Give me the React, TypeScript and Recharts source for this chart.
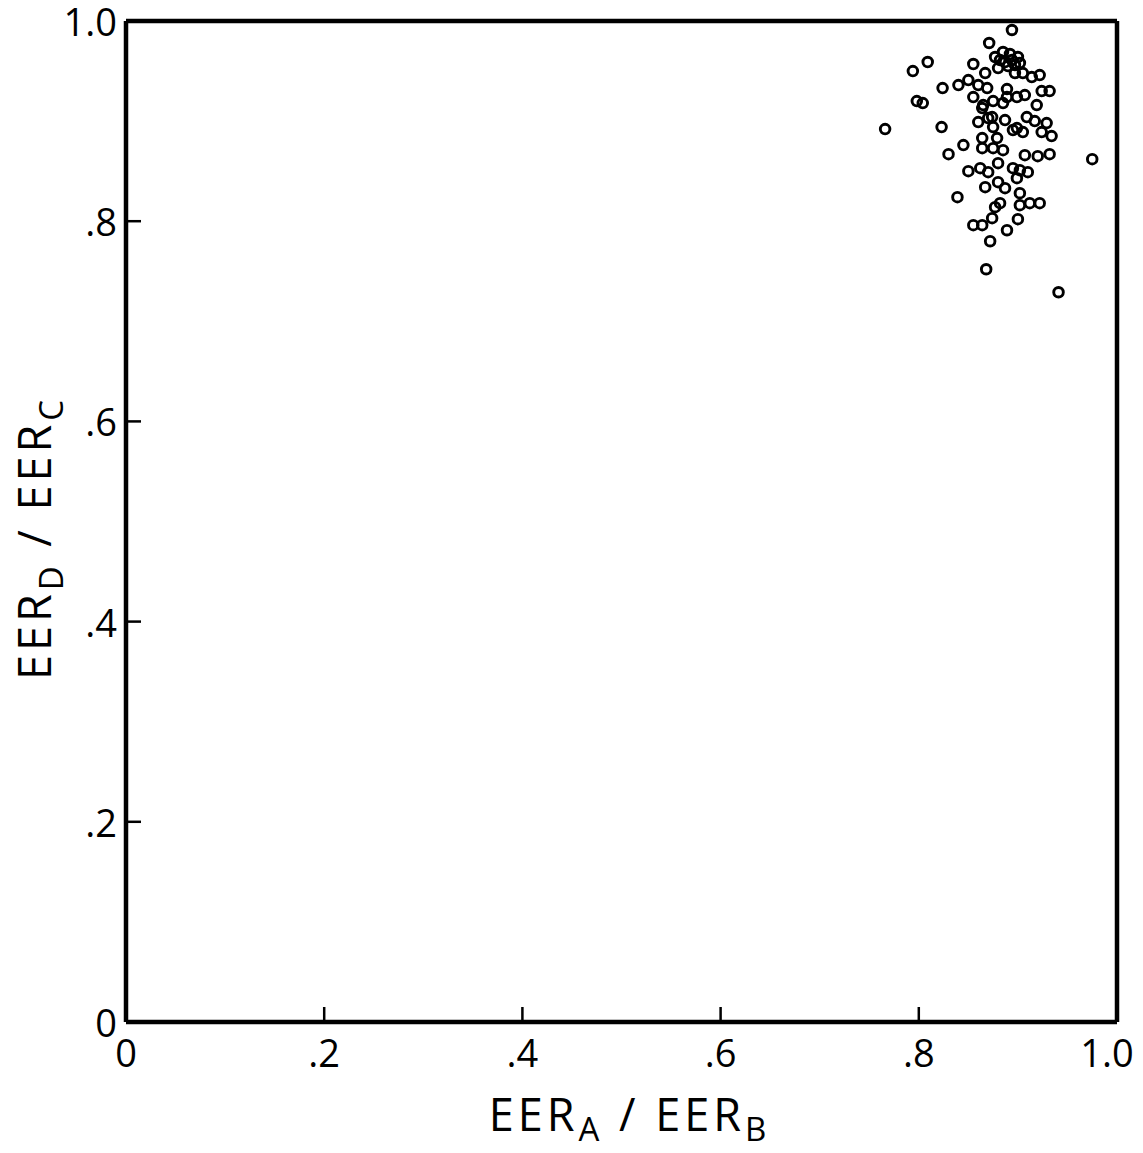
import { ScatterChart, Scatter, XAxis, YAxis, Label } from "recharts";

// EER_A / EER_B  (x) and EER_D / EER_C (y)
const ratioAB = [
  0.894, 0.871, 0.877, 0.885, 0.892, 0.9, 0.855, 0.794, 0.809, 0.867,
  0.88, 0.89, 0.897, 0.905, 0.914, 0.922, 0.824, 0.84, 0.85, 0.86,
  0.869, 0.889, 0.899, 0.907, 0.924, 0.932, 0.798, 0.804, 0.855, 0.865,
  0.875, 0.889, 0.919, 0.766, 0.823, 0.86, 0.874, 0.887, 0.899, 0.909,
  0.917, 0.929, 0.934, 0.924, 0.905, 0.895, 0.875, 0.864, 0.879, 0.845,
  0.83, 0.864, 0.875, 0.885, 0.907, 0.92, 0.932, 0.975, 0.85, 0.862,
  0.87, 0.88, 0.895, 0.902, 0.91, 0.88, 0.867, 0.887, 0.899, 0.902,
  0.839, 0.882, 0.877, 0.902, 0.912, 0.922, 0.9, 0.874, 0.864, 0.855,
  0.889, 0.872, 0.868, 0.941, 0.87, 0.864, 0.885, 0.894, 0.882, 0.902,
  0.887, 0.897,
];
const ratioDC = [
  0.991, 0.978, 0.964, 0.969, 0.967, 0.964, 0.957, 0.95, 0.959, 0.948,
  0.953, 0.955, 0.948, 0.948, 0.944, 0.946, 0.933, 0.936, 0.941, 0.936,
  0.933, 0.932, 0.924, 0.926, 0.93, 0.93, 0.92, 0.918, 0.924, 0.916,
  0.92, 0.924, 0.916, 0.892, 0.894, 0.899, 0.904, 0.901, 0.893, 0.904,
  0.9, 0.898, 0.885, 0.889, 0.889, 0.891, 0.894, 0.883, 0.883, 0.876,
  0.867, 0.873, 0.873, 0.871, 0.866, 0.865, 0.867, 0.862, 0.85, 0.853,
  0.849, 0.858, 0.853, 0.851, 0.849, 0.839, 0.834, 0.833, 0.843, 0.828,
  0.824, 0.818, 0.814, 0.816, 0.818, 0.818, 0.802, 0.803, 0.796, 0.796,
  0.791, 0.78, 0.752, 0.729, 0.903, 0.913, 0.918, 0.961, 0.961, 0.958,
  0.959, 0.956,
];
const axisTicks = [0, 0.2, 0.4, 0.6, 0.8, 1.0];
const tickLabels = ["0", ".2", ".4", ".6", ".8", "1.0"];

const points = ratioAB.map((x, i) => ({ x, y: ratioDC[i] }));

const font = "'Open Sans', 'Liberation Sans', sans-serif";
const fmt = (v: number) => tickLabels[axisTicks.findIndex((t) => Math.abs(t - v) < 1e-6)] ?? "";

const Ring = (props: any) => (
  <circle cx={props.cx} cy={props.cy} r={4.8} fill="none" stroke="#000" strokeWidth={2.9} />
);

// bottom labels: the "1.0" sits a little left of its tick, as in the drawing
const XTick = (props: any) => {
  const label = fmt(props.payload.value);
  const shift = label === "1.0" ? -10 : 0;
  return (
    <text
      x={props.x + shift}
      y={props.y + 30}
      textAnchor="middle"
      fontFamily={font}
      fontSize={38}
      fill="#000"
    >
      {label}
    </text>
  );
};

const YTick = (props: any) => (
  <text
    x={props.x}
    y={props.y + 15}
    textAnchor="end"
    fontFamily={font}
    fontSize={38}
    fill="#000"
  >
    {fmt(props.payload.value)}
  </text>
);

const axisLine = { stroke: "#000", strokeWidth: 4.5 };
const tickLine = { stroke: "#000", strokeWidth: 2.5 };

export default function App() {
  return (
    <div style={{ position: "absolute", left: 0, top: 0, background: "#fff" }}>
      <ScatterChart
        width={1143}
        height={1153}
        margin={{ top: 1, left: 6, right: 6, bottom: 11 }}
      >
        <XAxis
          xAxisId="b"
          dataKey="x"
          type="number"
          domain={[0, 1]}
          ticks={axisTicks}
          height={120}
          axisLine={axisLine}
          tickLine={tickLine}
          tickSize={-15}
          tickMargin={30}
          tick={XTick}
        >
          <Label
            content={(p: any) => {
              const vb = p.viewBox;
              return (
                <text
                  x={vb.x + vb.width / 2 + 8}
                  y={1131}
                  textAnchor="middle"
                  fontFamily={font}
                  fontSize={45}
                  letterSpacing={4}
                  fill="#000"
                >
                  <tspan>EER</tspan>
                  <tspan dy={10} fontSize={33}>A</tspan>
                  <tspan dy={-10}> / EER</tspan>
                  <tspan dy={10} fontSize={33}>B</tspan>
                </text>
              );
            }}
          />
        </XAxis>
        <XAxis
          xAxisId="t"
          orientation="top"
          type="number"
          domain={[0, 1]}
          ticks={axisTicks}
          tickFormatter={() => ""}
          height={20}
          axisLine={axisLine}
          tickLine={tickLine}
          tickSize={-15}
        />
        <YAxis
          yAxisId="l"
          dataKey="y"
          type="number"
          domain={[0, 1]}
          ticks={axisTicks}
          width={120}
          axisLine={axisLine}
          tickLine={tickLine}
          tickSize={-15}
          tickMargin={24}
          tick={YTick}
        >
          <Label
            content={() => {
              const cx = 51;
              const cy = 538;
              return (
                <text
                  x={cx}
                  y={cy}
                  transform={`rotate(-90 ${cx} ${cy})`}
                  textAnchor="middle"
                  fontFamily={font}
                  fontSize={45}
                  letterSpacing={4}
                  fill="#000"
                >
                  <tspan>EER</tspan>
                  <tspan dy={12} fontSize={33}>D</tspan>
                  <tspan dy={-12}> / EER</tspan>
                  <tspan dy={12} fontSize={33}>C</tspan>
                </text>
              );
            }}
          />
        </YAxis>
        <YAxis
          yAxisId="r"
          orientation="right"
          type="number"
          domain={[0, 1]}
          ticks={axisTicks}
          tickFormatter={() => ""}
          width={20}
          axisLine={axisLine}
          tickLine={tickLine}
          tickSize={-15}
        />
        <Scatter
          data={points}
          xAxisId="b"
          yAxisId="l"
          shape={Ring}
          isAnimationActive={false}
        />
      </ScatterChart>
    </div>
  );
}
